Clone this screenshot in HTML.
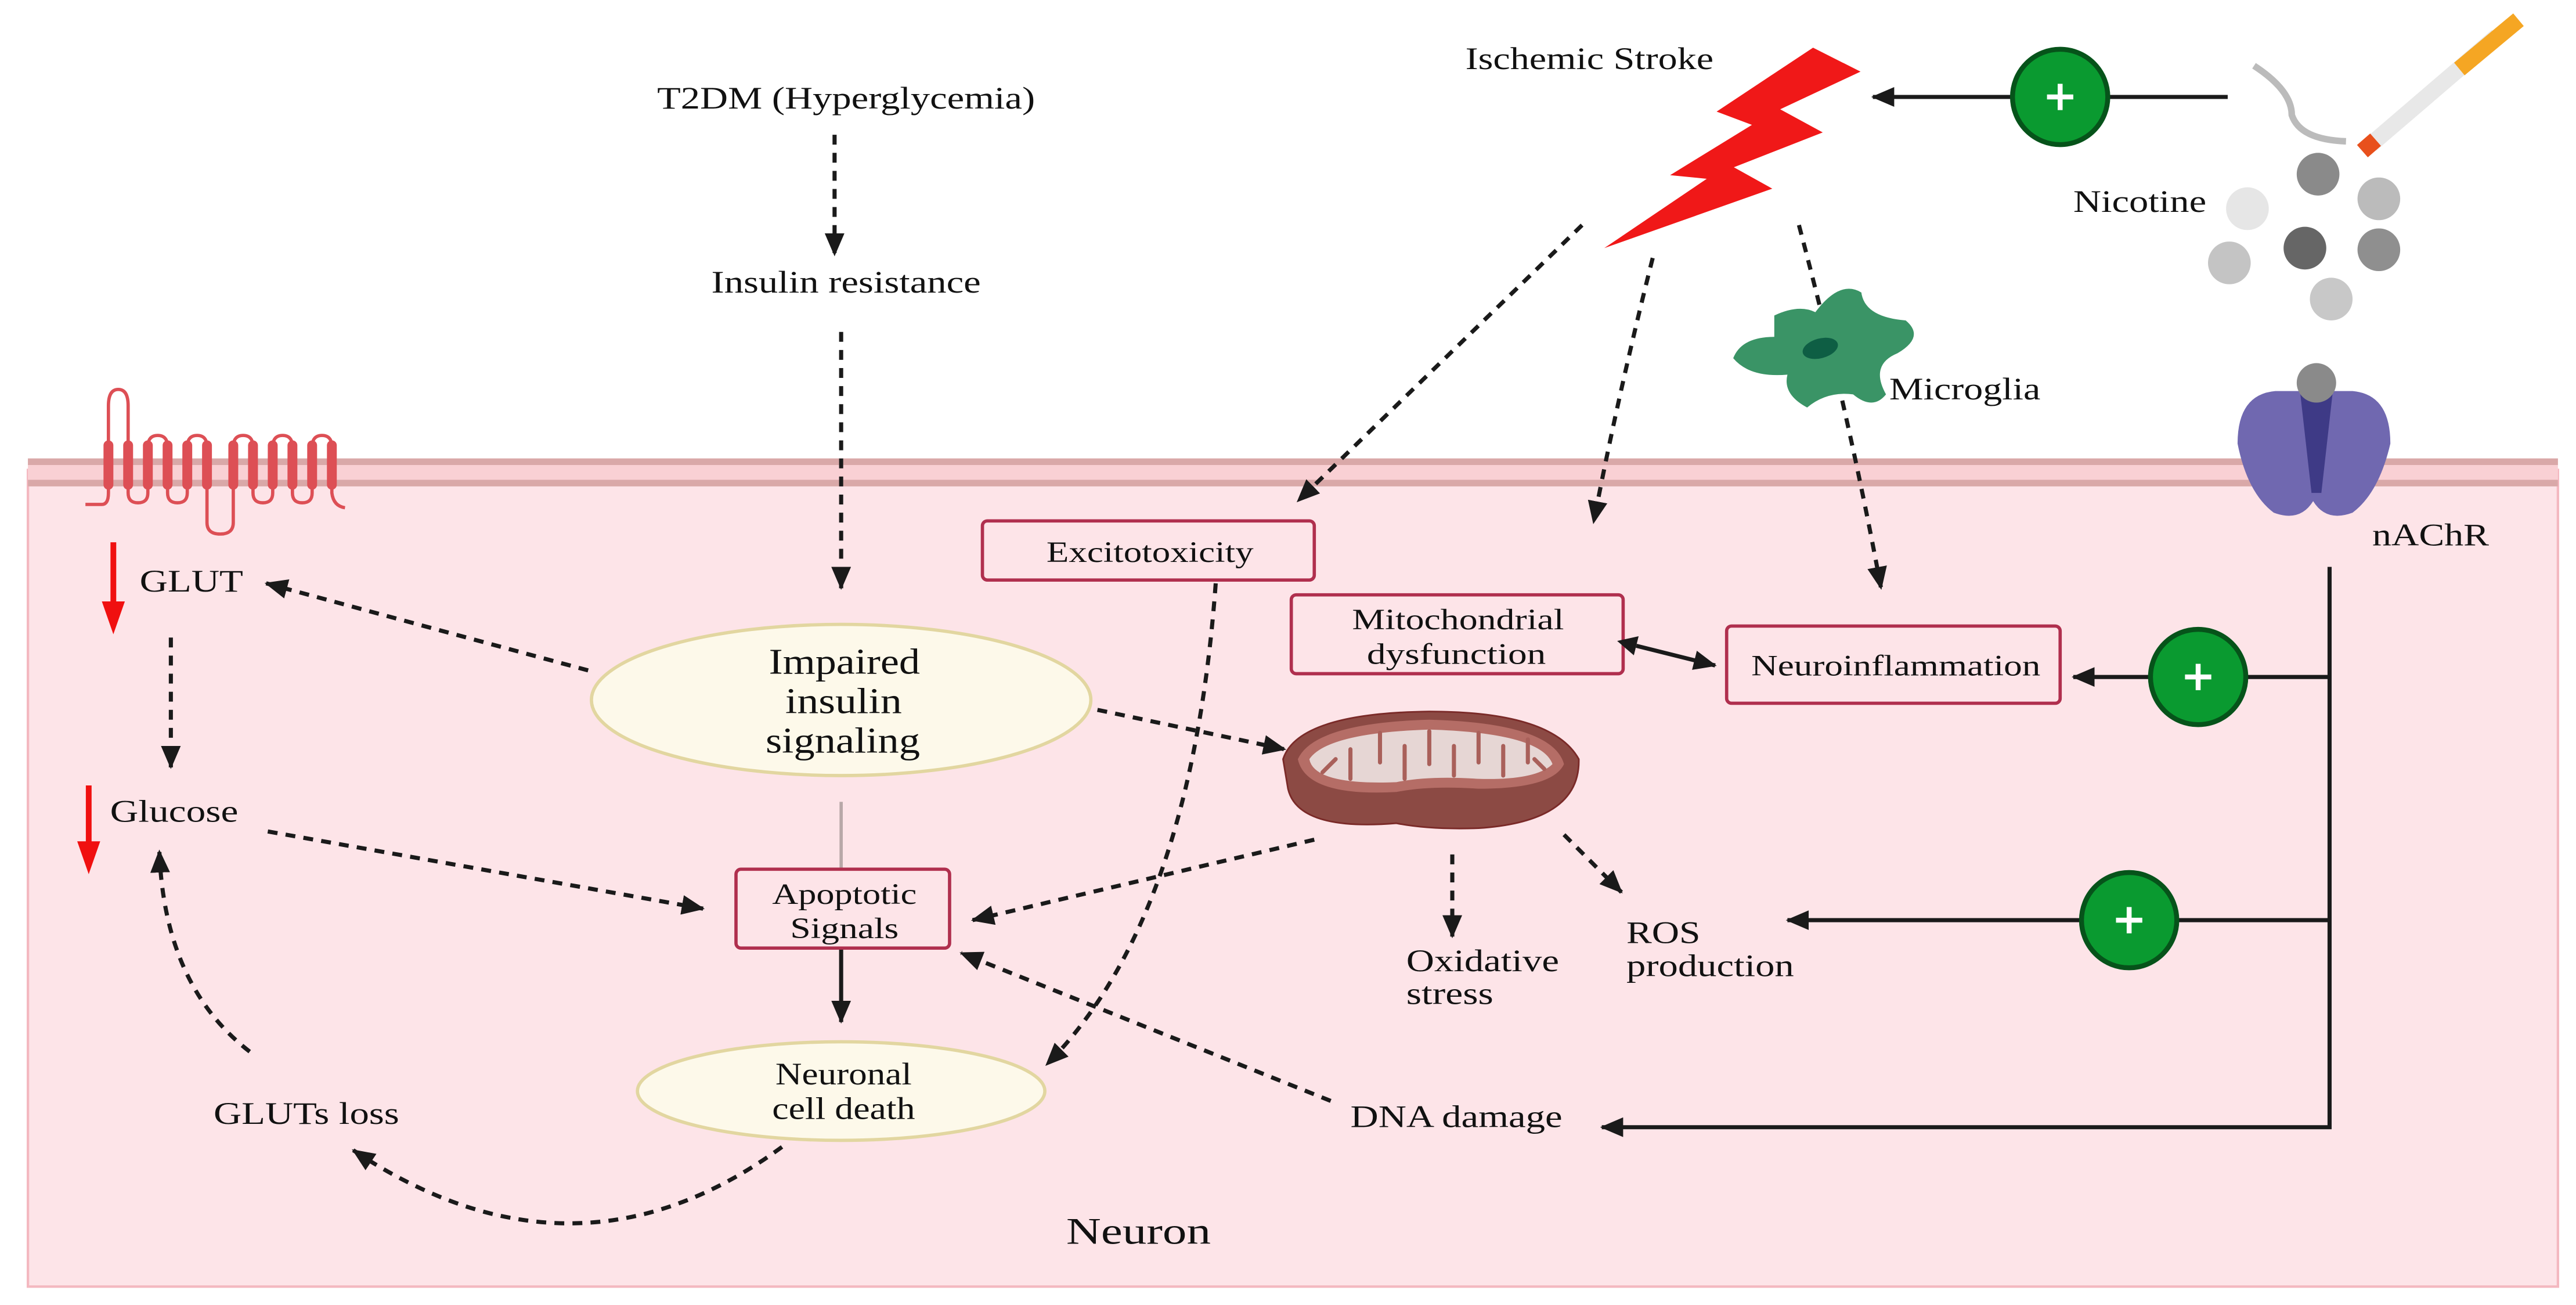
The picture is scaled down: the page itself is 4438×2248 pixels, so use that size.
<!DOCTYPE html>
<html><head><meta charset="utf-8"><style>html,body{margin:0;padding:0;background:#fff}svg{display:block}text{font-family:"Liberation Serif",serif;fill:#111}</style></head>
<body>
<svg width="4438" height="2248" viewBox="0 0 1568 794.2" preserveAspectRatio="none" xmlns="http://www.w3.org/2000/svg">
<defs>
<marker id="ahs" markerWidth="12" markerHeight="12" refX="0" refY="6" orient="auto-start-reverse" markerUnits="userSpaceOnUse"><path d="M0,0 L12,6 L0,12 z" fill="#1a1a1a"/></marker>
<marker id="as" markerWidth="14" markerHeight="12" refX="13" refY="6" orient="auto" markerUnits="userSpaceOnUse"><path d="M0,0 L14,6 L0,12 z" fill="#1a1a1a"/></marker>
<marker id="ad" markerWidth="14" markerHeight="12" refX="13" refY="6" orient="auto" markerUnits="userSpaceOnUse"><path d="M0,0 L14,6 L0,12 z" fill="#1a1a1a"/></marker>
</defs>
<!-- cell -->
<rect x="17" y="286" width="1540" height="497" fill="#fde4e8" stroke="#f4b8c0" stroke-width="1.5"/>
<rect x="17" y="279" width="1540" height="17" fill="#f9d0d4"/>
<rect x="17" y="279" width="1540" height="4" fill="#d9a8a8"/>
<rect x="17" y="292" width="1540" height="4" fill="#d9a8a8"/>
<!-- GLUT protein -->
<path d="M52,307 L62,307 Q66,307 66,300 L66,247 Q66,237 72,237 Q78,237 78,247 L78,300 Q78,306 84,306 Q90,306 90,300 L90,272 Q90,265 96,265 Q102,265 102,272 L102,300 Q102,306 108,306 Q114,306 114,300 L114,272 Q114,265 120,265 Q126,265 126,272 L126,318 Q126,325 134,325 Q142,325 142,318 L142,272 Q142,265 148,265 Q154,265 154,272 L154,300 Q154,306 160,306 Q166,306 166,300 L166,272 Q166,265 172,265 Q178,265 178,272 L178,300 Q178,306 184,306 Q190,306 190,300 L190,272 Q190,265 196,265 Q202,265 202,272 L202,300 Q203,308 210,309" fill="none" stroke="#dd4f55" stroke-width="2"/>
<g fill="#dd4f55">
<rect x="63" y="268" width="6" height="30" rx="3"/><rect x="75" y="268" width="6" height="30" rx="3"/><rect x="87" y="268" width="6" height="30" rx="3"/><rect x="99" y="268" width="6" height="30" rx="3"/><rect x="111" y="268" width="6" height="30" rx="3"/><rect x="123" y="268" width="6" height="30" rx="3"/><rect x="139" y="268" width="6" height="30" rx="3"/><rect x="151" y="268" width="6" height="30" rx="3"/><rect x="163" y="268" width="6" height="30" rx="3"/><rect x="175" y="268" width="6" height="30" rx="3"/><rect x="187" y="268" width="6" height="30" rx="3"/><rect x="199" y="268" width="6" height="30" rx="3"/>
</g>
<!-- red arrows -->
<line x1="69" y1="330" x2="69" y2="368" stroke="#f01010" stroke-width="3.5"/><path d="M62,366 L76,366 L69,386 z" fill="#f01010"/>
<line x1="54" y1="478" x2="54" y2="514" stroke="#f01010" stroke-width="3.5"/><path d="M47,512 L61,512 L54,532 z" fill="#f01010"/>
<!-- text -->
<g font-size="19" lengthAdjust="spacingAndGlyphs">
<text x="400" y="66" textLength="230" lengthAdjust="spacingAndGlyphs">T2DM (Hyperglycemia)</text>
<text x="433" y="178" textLength="164" lengthAdjust="spacingAndGlyphs">Insulin resistance</text>
<text x="85" y="360" textLength="63" lengthAdjust="spacingAndGlyphs">GLUT</text>
<text x="67" y="500" textLength="78" lengthAdjust="spacingAndGlyphs">Glucose</text>
<text x="130" y="684" textLength="113" lengthAdjust="spacingAndGlyphs">GLUTs loss</text>
<text x="856" y="591" textLength="93" lengthAdjust="spacingAndGlyphs">Oxidative</text><text x="856" y="611" textLength="53" lengthAdjust="spacingAndGlyphs">stress</text>
<text x="990" y="574" textLength="45" lengthAdjust="spacingAndGlyphs">ROS</text><text x="990" y="594" textLength="102" lengthAdjust="spacingAndGlyphs">production</text>
<text x="822" y="686" textLength="129" lengthAdjust="spacingAndGlyphs">DNA damage</text>
<text x="892" y="42" textLength="151" lengthAdjust="spacingAndGlyphs">Ischemic Stroke</text>
<text x="1262" y="129" textLength="81" lengthAdjust="spacingAndGlyphs">Nicotine</text>
<text x="1150" y="243" textLength="92" lengthAdjust="spacingAndGlyphs">Microglia</text>
<text x="1444" y="332" textLength="71" lengthAdjust="spacingAndGlyphs">nAChR</text>
</g>
<text x="649" y="757" font-size="23" textLength="88" lengthAdjust="spacingAndGlyphs">Neuron</text>
<!-- ellipses -->
<ellipse cx="512" cy="426" rx="152" ry="46" fill="#fdf9ea" stroke="#e2d6a0" stroke-width="2"/>
<g font-size="22"><text x="468" y="410" textLength="92" lengthAdjust="spacingAndGlyphs">Impaired</text><text x="478" y="434" textLength="71" lengthAdjust="spacingAndGlyphs">insulin</text><text x="466" y="458" textLength="94" lengthAdjust="spacingAndGlyphs">signaling</text></g>
<ellipse cx="512" cy="664" rx="124" ry="30" fill="#fdf9ea" stroke="#e2d6a0" stroke-width="2"/>
<g font-size="19"><text x="472" y="660" textLength="83" lengthAdjust="spacingAndGlyphs">Neuronal</text><text x="470" y="681" textLength="87" lengthAdjust="spacingAndGlyphs">cell death</text></g>
<!-- boxes -->
<g fill="#fde4e8" stroke="#b02f4e" stroke-width="2">
<rect x="448" y="529" width="130" height="48" rx="3"/>
<rect x="598" y="317" width="202" height="36" rx="3"/>
<rect x="786" y="362" width="202" height="48" rx="3"/>
<rect x="1051" y="381" width="203" height="47" rx="3"/>
</g>
<g font-size="18">
<text x="470" y="550" textLength="88" lengthAdjust="spacingAndGlyphs">Apoptotic</text><text x="481" y="571" textLength="66" lengthAdjust="spacingAndGlyphs">Signals</text>
<text x="637" y="342" textLength="126" lengthAdjust="spacingAndGlyphs">Excitotoxicity</text>
<text x="823" y="383" textLength="129" lengthAdjust="spacingAndGlyphs">Mitochondrial</text><text x="832" y="404" textLength="109" lengthAdjust="spacingAndGlyphs">dysfunction</text>
<text x="1066" y="411" textLength="176" lengthAdjust="spacingAndGlyphs">Neuroinflammation</text>
</g>
<!-- mitochondrion -->
<path d="M781,462 Q790,434 870,433 Q945,433 961,462 Q962,500 900,504 Q870,505 850,501 Q790,506 784,480 Z" fill="#8c4a44" stroke="#7a2a28" stroke-width="1"/>
<path d="M790,462 Q800,440 870,438 Q945,440 952,465 Q945,480 900,480 Q870,478 850,482 Q795,485 790,462 Z" fill="#b56d66"/>
<path d="M797,462 Q808,446 870,444 Q938,446 945,465 Q935,475 900,474 Q870,472 850,476 Q800,478 797,462 Z" fill="#e6d6d4"/>
<g stroke="#a9605a" stroke-width="2.5" fill="none" stroke-linecap="round">
<path d="M805,470 l8,-8 M822,474 v-18 M840,446 v18 M855,474 v-20 M870,445 v20 M885,472 v-18 M900,446 v18 M915,472 v-18 M930,450 v14 M940,468 l-6,-6"/>
</g>
<!-- dashed arrows -->
<g fill="none" stroke="#1a1a1a" stroke-width="2.5" stroke-dasharray="6,5" marker-end="url(#ad)">
<line x1="508" y1="82" x2="508" y2="155"/>
<line x1="512" y1="202" x2="512" y2="358"/>
<line x1="358" y1="408" x2="162" y2="355"/>
<line x1="104" y1="388" x2="104" y2="467"/>
<line x1="163" y1="506" x2="428" y2="553"/>
<line x1="668" y1="432" x2="782" y2="456"/>
<line x1="800" y1="511" x2="592" y2="560"/>
<line x1="884" y1="520" x2="884" y2="570"/>
<line x1="952" y1="508" x2="987" y2="543"/>
<line x1="810" y1="670" x2="585" y2="580"/>
<line x1="963" y1="137" x2="790" y2="305"/>
<path d="M1006,157 Q985,240 970,318"/>
<path d="M1095,137 Q1125,250 1145,358"/>
<path d="M740,355 Q725,560 637,648"/>
<path d="M476,698 Q350,790 215,700"/>
<path d="M152,640 Q100,600 97,518"/>
</g>
<!-- solid -->
<line x1="512" y1="488" x2="512" y2="528" stroke="#b8a8a8" stroke-width="2"/>
<g stroke="#1a1a1a" stroke-width="2.5" fill="none">
<line x1="512" y1="578" x2="512" y2="622" marker-end="url(#as)"/>
<line x1="996" y1="393" x2="1044" y2="405" marker-start="url(#ahs)" marker-end="url(#as)"/>
<line x1="1356" y1="59" x2="1140" y2="59" marker-end="url(#as)"/>
<polyline points="1418,345 1418,686 975,686" marker-end="url(#as)"/>
<line x1="1418" y1="412" x2="1262" y2="412" marker-end="url(#as)"/>
<line x1="1418" y1="560" x2="1088" y2="560" marker-end="url(#as)"/>
</g>
<!-- plus circles -->
<g>
<circle cx="1254" cy="59" r="29" fill="#0a9a30" stroke="#06531a" stroke-width="3"/>
<circle cx="1338" cy="412" r="29" fill="#0a9a30" stroke="#06531a" stroke-width="3"/>
<circle cx="1296" cy="560" r="29" fill="#0a9a30" stroke="#06531a" stroke-width="3"/>
<g stroke="#fff" stroke-width="3"><path d="M1246,59h16M1254,51v16M1330,412h16M1338,404v16M1288,560h16M1296,552v16"/></g>
</g>
<!-- lightning -->
<polygon points="1103.6,29 1132.5,43.6 1083.6,66.5 1109.5,80.6 1055.4,101.8 1078.8,114.8 976.5,151 1038.9,108.8 1016.6,106.6 1066.4,76 1044.9,67.9" fill="#f01818"/>
<!-- microglia -->
<path d="M1080,192 Q1095,185 1105,190 Q1120,170 1133,178 Q1135,193 1160,195 Q1172,205 1155,215 Q1138,222 1148,240 Q1140,250 1128,240 Q1112,238 1100,248 Q1085,240 1088,228 Q1065,230 1055,218 Q1060,205 1080,205 Z" fill="#3a9466"/>
<ellipse cx="1108" cy="212" rx="11" ry="6" fill="#0e5e44" transform="rotate(-15 1108 212)"/>
<!-- cigarette -->
<line x1="1443" y1="88" x2="1520" y2="22" stroke="#e8e8e8" stroke-width="10" stroke-linecap="butt"/>
<line x1="1497" y1="42" x2="1533" y2="12" stroke="#f5a623" stroke-width="10"/>
<line x1="1438" y1="92" x2="1446" y2="85" stroke="#e8501c" stroke-width="10"/>
<path d="M1372,40 Q1395,55 1395,70 Q1400,85 1428,86" fill="none" stroke="#bbb" stroke-width="4"/>
<!-- nicotine balls -->
<g>
<circle cx="1411" cy="106" r="13" fill="#8a8a8a"/><circle cx="1368" cy="127" r="13" fill="#e6e6e6"/><circle cx="1448" cy="121" r="13" fill="#bbb"/><circle cx="1403" cy="151" r="13" fill="#666"/><circle cx="1448" cy="152" r="13" fill="#8f8f8f"/><circle cx="1357" cy="160" r="13" fill="#c4c4c4"/><circle cx="1419" cy="182" r="13" fill="#c8c8c8"/>
</g>
<!-- nAChR -->
<path d="M1385,238 Q1362,240 1362,270 Q1368,300 1384,312 Q1400,318 1408,305 Q1416,318 1432,312 Q1448,300 1455,270 Q1455,240 1432,238 Z" fill="#7068b0"/>
<path d="M1400,238 L1420,238 L1413,300 L1407,300 Z" fill="#3e3a86"/>
<circle cx="1410" cy="233" r="12" fill="#8a8a8a"/>
</svg>
</body></html>
